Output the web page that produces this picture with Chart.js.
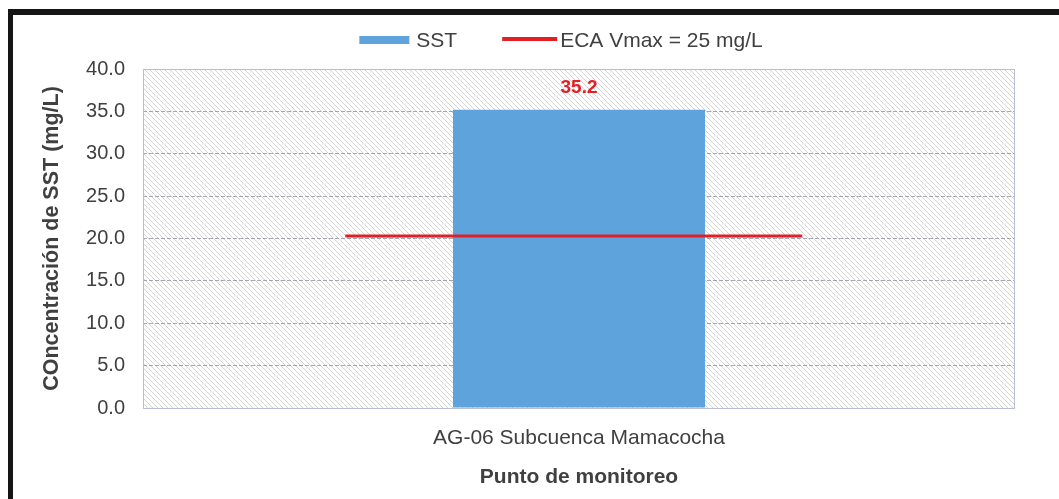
<!DOCTYPE html>
<html>
<head>
<meta charset="utf-8">
<script src="https://cdn.jsdelivr.net/npm/chart.js@4.4.1/dist/chart.umd.min.js"></script>
<style>
  html, body { margin: 0; padding: 0; background: #ffffff; }
  #wrap { position: relative; width: 1059px; height: 499px; }
  canvas { display: block; }
</style>
</head>
<body>
<div id="wrap"><canvas id="c" width="1059" height="499"></canvas></div>
<script>
// ---- data ----
const categories = ['AG-06 Subcuenca Mamacocha'];
const sstValues = [35.2];
const ecaLabel = 'ECA Vmax = 25 mg/L';
const ecaX = [0.232, 0.756];      // extent of the ECA line along a hidden 0..1 axis
const ecaY = [20.3, 20.3];
const yTicks = [0, 5, 10, 15, 20, 25, 30, 35, 40];

const FONT = "'Liberation Sans', Arial, sans-serif";
const TXT = '#404040';
const BAR = '#5fa3dc';
const RED = '#e31e24';

// hatch pattern
function makePattern(ctx) {
  const p = document.createElement('canvas');
  p.width = 5; p.height = 5;
  const g = p.getContext('2d');
  g.fillStyle = '#ffffff'; g.fillRect(0, 0, 5, 5);
  g.strokeStyle = 'rgba(150,150,150,0.4)';
  g.lineWidth = 1;
  g.beginPath();
  g.moveTo(-1, -1); g.lineTo(6, 6);
  g.moveTo(-1, 4); g.lineTo(1, 6);
  g.moveTo(4, -1); g.lineTo(6, 1);
  g.stroke();
  return ctx.createPattern(p, 'repeat');
}

const decor = {
  id: 'decor',
  beforeDraw(chart) {
    const { ctx, chartArea: a } = chart;
    ctx.save();
    ctx.fillStyle = makePattern(ctx);
    ctx.fillRect(a.left, a.top, a.right - a.left, a.bottom - a.top);
    // outer frame (top & left visible)
    ctx.fillStyle = '#151515';
    ctx.fillRect(8, 9, chart.width - 8, 6);
    ctx.fillRect(8, 9, 5, chart.height - 9);
    ctx.restore();
  },
  beforeDatasetsDraw(chart) {
    const { ctx, chartArea: a } = chart;
    ctx.save();
    ctx.strokeStyle = '#b9bdd6';
    ctx.lineWidth = 1;
    ctx.strokeRect(a.left + 0.5, a.top + 0.5, a.right - a.left - 1, a.bottom - a.top);
    ctx.restore();
  },
  afterDatasetsDraw(chart) {
    const { ctx } = chart;
    const meta = chart.getDatasetMeta(0);
    ctx.save();
    ctx.fillStyle = RED;
    ctx.font = "bold 19px " + FONT;
    ctx.textAlign = 'center';
    ctx.textBaseline = 'middle';
    meta.data.forEach((bar, i) => {
      ctx.fillText(sstValues[i].toFixed(1), bar.x, bar.y - 22);
    });
    ctx.restore();
  },
  afterDraw(chart) {
    // legend
    const { ctx } = chart;
    ctx.save();
    ctx.font = "21px " + FONT;
    const ds = chart.data.datasets;
    const w1 = ctx.measureText(ds[0].label).width;
    const w2 = ctx.measureText(ds[1].label).width;
    const total = 50 + 7 + w1 + 45 + 55 + 3 + w2;
    let x = 561 - total / 2;
    const y = 40;
    ctx.fillStyle = ds[0].backgroundColor;
    ctx.fillRect(x, y - 4, 50, 8);
    x += 57;
    ctx.fillStyle = TXT;
    ctx.textBaseline = 'middle';
    ctx.textAlign = 'left';
    ctx.fillText(ds[0].label, x, y + 1);
    x += w1 + 45;
    ctx.strokeStyle = ds[1].borderColor;
    ctx.lineWidth = 4;
    ctx.beginPath(); ctx.moveTo(x, y - 1); ctx.lineTo(x + 55, y - 1); ctx.stroke();
    x += 58;
    ctx.fillText(ds[1].label, x, y + 1);
    ctx.restore();
  }
};

new Chart(document.getElementById('c'), {
  type: 'bar',
  data: {
    labels: categories,
    datasets: [
      {
        type: 'bar',
        label: 'SST',
        data: sstValues,
        backgroundColor: BAR,
        borderWidth: 0,
        barPercentage: 0.289,
        categoryPercentage: 1.0,
        grouped: false,
        xAxisID: 'x',
        order: 2
      },
      {
        type: 'line',
        label: ecaLabel,
        data: ecaX.map((x, i) => ({ x: x, y: ecaY[i] })),
        borderColor: RED,
        borderWidth: 3,
        pointRadius: 0,
        fill: false,
        xAxisID: 'x2',
        order: 1
      }
    ]
  },
  options: {
    responsive: false,
    animation: false,
    layout: { padding: { left: 0, right: 44, top: 69, bottom: 0 } },
    plugins: {
      legend: { display: false },
      tooltip: { enabled: false }
    },
    scales: {
      x: {
        type: 'category',
        min: categories[0],
        max: categories[categories.length - 1],
        offset: true,
        afterFit(scale) { scale.height = 91; },
        grid: { display: false, drawTicks: false },
        border: { display: false },
        ticks: { color: TXT, font: { family: FONT, size: 21 }, padding: 18 },
        title: {
          display: true, text: 'Punto de monitoreo', color: TXT,
          font: { family: FONT, size: 21, weight: 'bold' },
          padding: { top: 13, bottom: 9 }
        }
      },
      x2: {
        type: 'linear', min: 0, max: 1, display: false, offset: false,
        grid: { offset: false }
      },
      y: {
        min: 0, max: 40,
        afterBuildTicks(scale) { scale.ticks = yTicks.map(v => ({ value: v })); },
        afterFit(scale) { scale.width = 143; },
        grid: {
          color: 'rgba(130,130,150,0.7)', lineWidth: 1, drawTicks: false
        },
        border: { display: false, dash: [4, 2] },
        ticks: {
          color: TXT, font: { family: FONT, size: 20 }, padding: 18,
          callback: v => Number(v).toFixed(1)
        },
        title: {
          display: true, text: 'COncentración de SST (mg/L)', color: TXT,
          font: { family: FONT, size: 21.5, weight: 'bold' },
          padding: { top: 39, bottom: 0 }
        }
      }
    }
  },
  plugins: [decor]
});
</script>
</body>
</html>
